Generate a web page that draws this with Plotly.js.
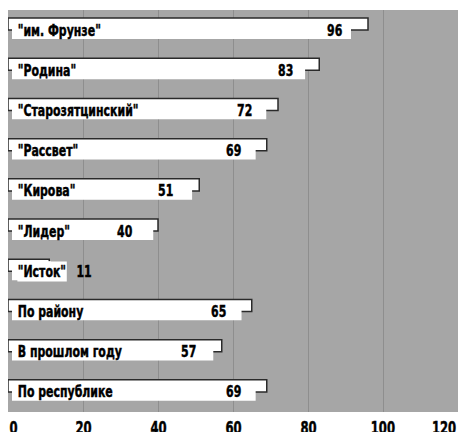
<!DOCTYPE html>
<html>
<head>
<meta charset="utf-8">
<script src="https://cdn.plot.ly/plotly-3.0.1.min.js"></script>
<style>
html,body{margin:0;padding:0;background:#fff;}
#chart{width:463px;height:432px;}
#chart text.annotation-text{stroke:#000;stroke-width:0.45px;}
</style>
</head>
<body>
<div id="chart"></div>
<script>
const categories = ['"им. Фрунзе"', '"Родина"', '"Старозятцинский"', '"Рассвет"', '"Кирова"', '"Лидер"', '"Исток"', 'По району', 'В прошлом году', 'По республике'];
const values = [96, 83, 72, 69, 51, 40, 11, 65, 57, 69];
const tickVals = [0, 20, 40, 60, 80, 100, 120];
const tickText = ['0', '20', '40', '60', '80', '100', '120'];

const FONT = 'DejaVu Sans Condensed, Liberation Sans Narrow, sans-serif';
const SQUEEZE = 0.76;

const back = {
  type: 'bar', orientation: 'h', x: values, y: categories,
  xaxis: 'x', yaxis: 'y',
  offset: -0.3, width: 0.3,
  marker: {color: '#ffffff', line: {color: '#2a2a2a', width: 1.5}},
  hoverinfo: 'skip', showlegend: false
};
const front = {
  type: 'bar', orientation: 'h', x: values, y: categories,
  xaxis: 'x2', yaxis: 'y',
  offset: -0.25, width: 0.47,
  marker: {color: '#ffffff', line: {width: 0}},
  hoverinfo: 'skip', showlegend: false
};

const annotations = [];
categories.forEach((c, i) => {
  const small = values[i] < 20;
  annotations.push({
    x: 0, y: c, xref: 'x', yref: 'y', text: c, showarrow: false,
    xanchor: 'left', yanchor: 'middle', xshift: 9, align: 'left',
    bgcolor: small ? '#ffffff' : 'rgba(0,0,0,0)', borderpad: 0,
    font: {family: FONT, size: 16, color: '#000', weight: 'bold'}
  });
  annotations.push({
    x: values[i], y: c, xref: 'x', yref: 'y', text: String(values[i]), showarrow: false,
    xanchor: small ? 'left' : 'right', yanchor: 'middle', xshift: small ? 26 : -24,
    font: {family: FONT, size: 16, color: '#000', weight: 'bold'}
  });
});
tickVals.forEach((v, i) => {
  annotations.push({
    x: v, y: 0, xref: 'x', yref: 'paper', text: tickText[i], showarrow: false,
    xanchor: i === 0 ? 'left' : (i === tickVals.length - 1 ? 'right' : 'center'),
    yanchor: 'top', yshift: -4,
    font: {family: FONT, size: 17, color: '#000', weight: 'bold'}
  });
});

const layout = {
  width: 463, height: 432,
  margin: {l: 8, r: 5, t: 10, b: 20},
  paper_bgcolor: '#ffffff', plot_bgcolor: '#a6a6a6',
  barmode: 'overlay',
  showlegend: false,
  xaxis: {range: [0, 120], tickvals: tickVals, showticklabels: false, showgrid: true,
          gridcolor: '#8e8e8e', gridwidth: 1, zeroline: false, showline: false, ticks: ''},
  xaxis2: {overlaying: 'x', range: [-1.13, 126.3], visible: false},
  yaxis: {type: 'category', categoryorder: 'array', categoryarray: categories,
          autorange: 'reversed', showticklabels: false, showgrid: false, zeroline: false, ticks: ''},
  annotations: annotations
};

Plotly.newPlot('chart', [back, front], layout, {staticPlot: true, displayModeBar: false}).then(gd => {
  // condense annotation text horizontally around its anchor edge
  gd.querySelectorAll('g.annotation').forEach(a => {
    const idx = +a.getAttribute('data-index');
    const ann = annotations[idx];
    const inner = a.querySelector('g.annotation-text-g > g');
    if (!inner || !ann) return;
    const rect = inner.querySelector('rect.bg');
    const w = rect ? +rect.getAttribute('width') : 0;
    const o = ann.xanchor === 'left' ? 0 : (ann.xanchor === 'right' ? w : w / 2);
    const t = inner.getAttribute('transform') || '';
    inner.setAttribute('transform', t + ' translate(' + o + ',0) scale(' + SQUEEZE + ',1) translate(' + (-o) + ',0)');
  });
});
</script>
</body>
</html>
